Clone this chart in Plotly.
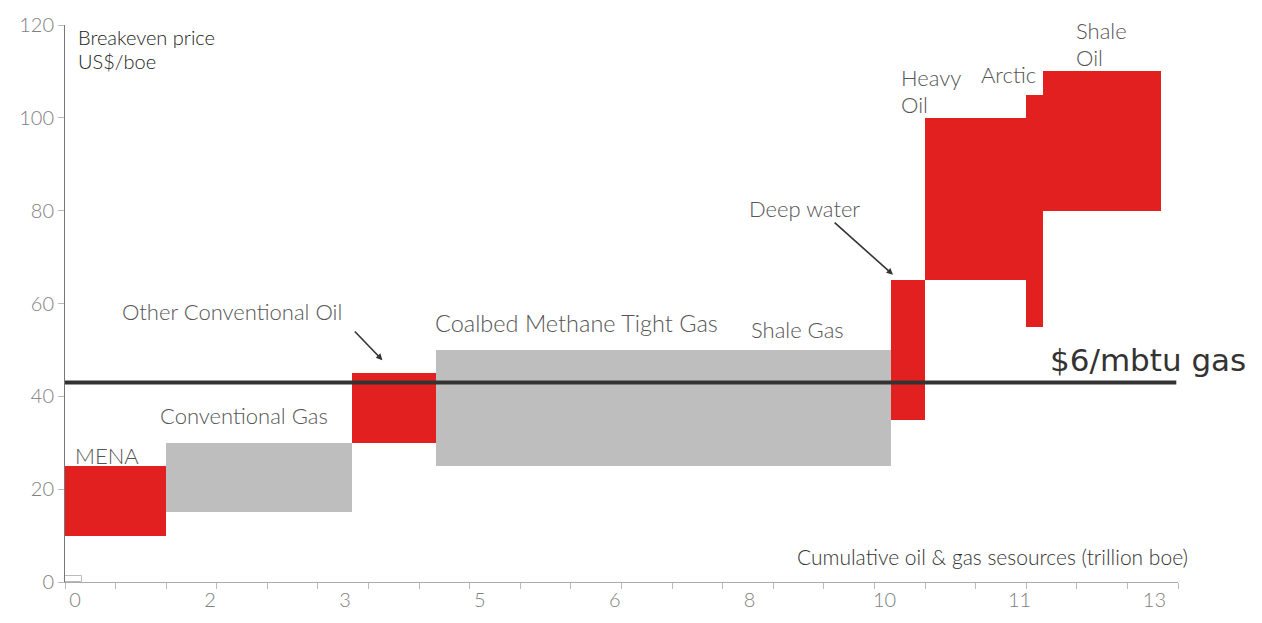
import numpy as np
import plotly.graph_objects as go

# Resource blocks: width on the cumulative axis (trillion boe) and breakeven price band (US$/boe)
segments = ["MENA", "Conventional Gas", "Other Conventional Oil", "Coalbed Methane / Tight Gas / Shale Gas",
            "Deep water", "Heavy Oil", "Arctic", "Shale Oil"]
widths = [1.2, 2.2, 1.0, 5.4, 0.4, 1.2, 0.2, 1.4]
price_low = [10, 15, 30, 25, 35, 65, 55, 80]
price_high = [25, 30, 45, 50, 65, 100, 105, 110]
kind = ["oil", "gas", "oil", "gas", "oil", "oil", "oil", "oil"]

# Small marker block at the origin
origin_width = 0.2
origin_high = 1.3

gas_price_line = 43  # $6/mbtu gas equivalent

# Axis ticks
x_tick_pos = [0.12 + 1.6 * k for k in range(9)]
x_tick_text = ["0", "2", "3", "5", "6", "8", "10", "11", "13"]
y_tick_vals = [0, 20, 40, 60, 80, 100, 120]

RED = "#E2201F"
GREY = "#BEBEBE"
LABEL_FONT = "Lato"
LABEL_COLOR = "#555555"

edges = np.concatenate([[0], np.cumsum(widths)])
centers = (edges[:-1] + edges[1:]) / 2

fig = go.Figure()

fig.add_trace(go.Bar(
    x=[origin_width / 2], y=[origin_high], base=[0], width=[origin_width],
    marker=dict(color="white", line=dict(color="#BBBBBB", width=1)),
    showlegend=False, hoverinfo="skip",
))

for name, c, w, lo, hi, k in zip(segments, centers, widths, price_low, price_high, kind):
    fig.add_trace(go.Bar(
        x=[c], y=[hi - lo], base=[lo], width=[w], name=name,
        marker=dict(color=RED if k == "oil" else GREY, line=dict(width=0)),
        showlegend=False,
    ))

# $6/mbtu gas reference line
fig.add_trace(go.Scatter(
    x=[-0.04, 13.18], y=[gas_price_line, gas_price_line], mode="lines",
    line=dict(color="#333333", width=4), showlegend=False, hoverinfo="skip",
    cliponaxis=False,
))


def label(text, x, y, size=22, color=LABEL_COLOR, anchor="left", font=LABEL_FONT,
          weight=300, xref="x"):
    fig.add_annotation(x=x, y=y, xref=xref, yref="y", text=text, showarrow=False,
                       xanchor=anchor, yanchor="middle",
                       font=dict(family=font, size=size, color=color, weight=weight))


label("Breakeven price", 0.13, 117.4, size=20, color="#222222")
label("US$/boe", 0.13, 112.3, size=20, color="#222222")
label("MENA", 0.09, 27.2)
label("Conventional Gas", 1.10, 35.9)
label("Other Conventional Oil", 0.65, 58.3)
label("Coalbed Methane Tight Gas", 4.37, 55.7, size=23.5)
label("Shale Gas", 8.11, 54.5)
label("Deep water", 8.09, 80.5)
label("Heavy", 9.89, 108.6)
label("Oil", 9.89, 102.9)
label("Arctic", 10.84, 109.3)
label("Shale", 11.97, 118.8)
label("Oil", 11.97, 113.0)
label("Cumulative oil & gas sesources (trillion boe)", 1.0108, 5.4, size=21, color="#333333",
      anchor="right", xref="paper")
label("$6/mbtu gas", 11.66, 47.8, size=31, color="#333333", font="DejaVu Sans", weight=400)

# Pointer arrows
for (hx, hy, tx, ty) in [(3.765, 47.8, 3.42, 54.3), (9.82, 66.2, 9.11, 77.7)]:
    fig.add_annotation(x=hx, y=hy, ax=tx, ay=ty, xref="x", yref="y", axref="x", ayref="y",
                       text="", showarrow=True, arrowhead=2, arrowsize=0.8, arrowwidth=1.6,
                       arrowcolor="#333333")

fig.update_layout(
    width=1262, height=623,
    margin=dict(l=65, r=84, t=20, b=41),
    paper_bgcolor="white", plot_bgcolor="white",
    barmode="overlay", bargap=0,
    showlegend=False,
    xaxis=dict(
        range=[0, 13.2], showgrid=False, zeroline=False,
        showline=True, linecolor="#AAAAAA", linewidth=1,
        tickmode="array", tickvals=x_tick_pos, ticktext=x_tick_text, ticks="",
        tickfont=dict(family=LABEL_FONT, size=20, color="#808080", weight=300),
        minor=dict(ticks="outside", tick0=0, dtick=0.6, ticklen=6, tickcolor="#BBBBBB", showgrid=False),
    ),
    yaxis=dict(
        range=[0, 120], showgrid=False, zeroline=False,
        showline=True, linecolor="#777777", linewidth=1,
        tickmode="array", tickvals=y_tick_vals, ticks="outside", ticklen=6, tickcolor="#BBBBBB",
        tickfont=dict(family=LABEL_FONT, size=20, color="#808080", weight=300),
    ),
)

fig.write_html("out.html")
